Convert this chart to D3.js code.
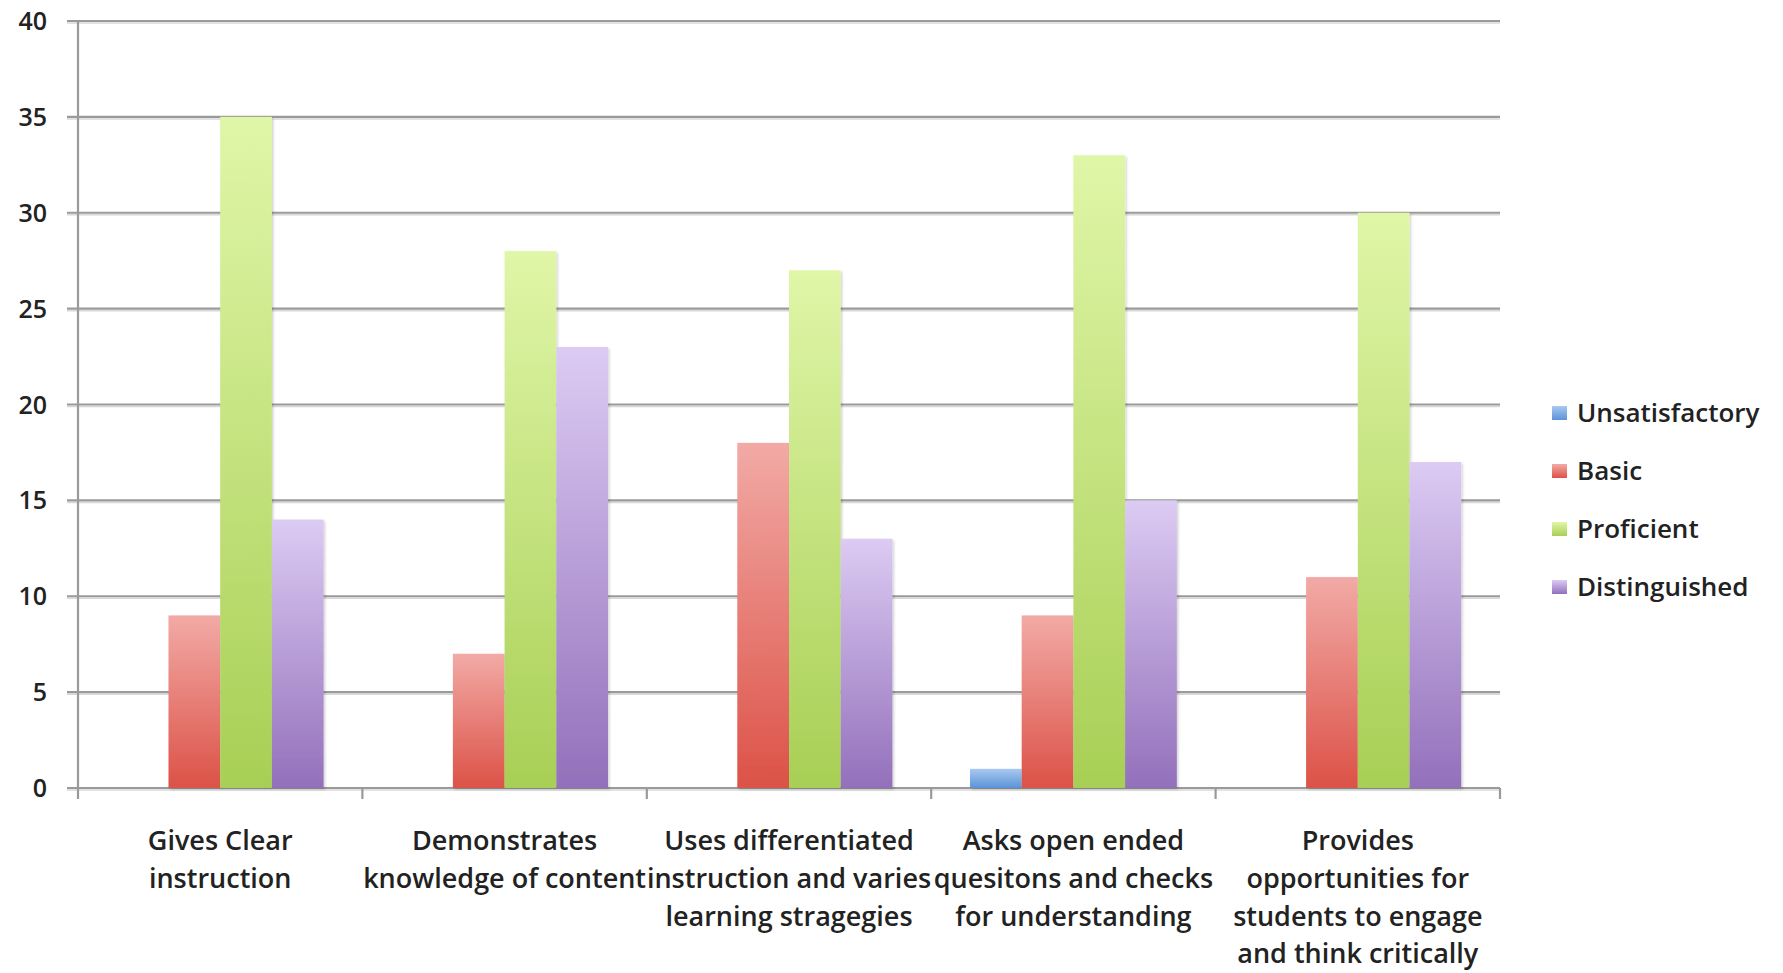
<!DOCTYPE html>
<html>
<head>
<meta charset="utf-8">
<script src="https://cdn.jsdelivr.net/npm/d3@7"></script>
<style>
  html, body { margin: 0; padding: 0; background: #fff; }
  svg { display: block; }
  text { font-family: "Open Sans", Lato, sans-serif; fill: #222; font-weight: 600; }
</style>
</head>
<body>
<script>
// 카테고리와 시리즈 값
const categories = [
    ["Gives Clear", "instruction"],
    ["Demonstrates", "knowledge of content"],
    ["Uses differentiated", "instruction and varies", "learning stragegies"],
    ["Asks open ended", "quesitons and checks", "for understanding"],
    ["Provides", "opportunities for", "students to engage", "and think critically"]
];
const seriesNames = ["Unsatisfactory", "Basic", "Proficient", "Distinguished"];
const unsatisfactory = [0, 0, 0, 1, 0];
const basic = [9, 7, 18, 9, 11];
const proficient = [35, 28, 27, 33, 30];
const distinguished = [14, 23, 13, 15, 17];
const yTicks = [0, 5, 10, 15, 20, 25, 30, 35, 40];

const seriesValues = [unsatisfactory, basic, proficient, distinguished];

// 그라디언트 색 (위: 밝게, 아래: 진하게)
const colors = [
    { top: "#a9c9f0", bottom: "#5b93d9" },
    { top: "#f2aaa6", bottom: "#dc5247" },
    { top: "#e0f6a8", bottom: "#a8cf55" },
    { top: "#dccbf3", bottom: "#9370bb" }
];

const width = 1783, height = 973;
const plot = { left: 78, right: 1500, top: 21, bottom: 788 };

const svg = d3.select("body").append("svg")
    .attr("width", width)
    .attr("height", height);

const defs = svg.append("defs");
colors.forEach((c, i) => {
    const g = defs.append("linearGradient")
        .attr("id", "grad" + i)
        .attr("x1", 0).attr("y1", 0).attr("x2", 0).attr("y2", 1);
    g.append("stop").attr("offset", "0%").attr("stop-color", c.top);
    g.append("stop").attr("offset", "100%").attr("stop-color", c.bottom);
});
const shadow = defs.append("filter").attr("id", "shadow")
    .attr("x", "-10%").attr("y", "-10%").attr("width", "130%").attr("height", "130%");
shadow.append("feDropShadow")
    .attr("dx", 1.5).attr("dy", 1.5).attr("stdDeviation", 1.2)
    .attr("flood-color", "#000").attr("flood-opacity", 0.18);

const x0 = d3.scaleBand()
    .domain(d3.range(categories.length))
    .range([plot.left, plot.right])
    .paddingInner(0).paddingOuter(0);

const x1 = d3.scaleBand()
    .domain(d3.range(seriesNames.length))
    .range([0, x0.bandwidth()])
    .paddingOuter(0.75)
    .paddingInner(0);

const y = d3.scaleLinear()
    .domain([0, 40])
    .range([plot.bottom, plot.top]);

// 그리드 라인
const grid = svg.append("g").attr("class", "grid");
grid.selectAll("line.sh")
    .data(yTicks)
    .enter().append("line")
    .attr("x1", plot.left - 11).attr("x2", plot.right)
    .attr("y1", d => y(d) + 2).attr("y2", d => y(d) + 2)
    .attr("stroke", "#d8d8d8").attr("stroke-width", 1.5);
grid.selectAll("line.main")
    .data(yTicks)
    .enter().append("line")
    .attr("x1", plot.left - 11).attr("x2", plot.right)
    .attr("y1", d => y(d)).attr("y2", d => y(d))
    .attr("stroke", "#9a9a9a").attr("stroke-width", 2.2);

// y축 세로선
svg.append("line")
    .attr("x1", plot.left).attr("x2", plot.left)
    .attr("y1", plot.top - 1).attr("y2", plot.bottom + 11)
    .attr("stroke", "#9a9a9a").attr("stroke-width", 2.2);

// x축 카테고리 구분 틱
svg.append("g")
    .selectAll("line")
    .data(d3.range(1, categories.length + 1))
    .enter().append("line")
    .attr("x1", d => x0(d - 1) + x0.bandwidth())
    .attr("x2", d => x0(d - 1) + x0.bandwidth())
    .attr("y1", plot.bottom).attr("y2", plot.bottom + 11)
    .attr("stroke", "#9a9a9a").attr("stroke-width", 2.2);

// 막대
const groups = svg.append("g")
    .selectAll("g")
    .data(categories.map((c, i) => i))
    .enter().append("g")
    .attr("transform", i => `translate(${x0(i)},0)`);

groups.selectAll("rect")
    .data(i => seriesValues.map((vals, s) => ({ s: s, v: vals[i] })).filter(d => d.v > 0))
    .enter().append("rect")
    .attr("x", d => x1(d.s))
    .attr("width", x1.bandwidth())
    .attr("y", d => y(d.v))
    .attr("height", d => y(0) - y(d.v))
    .attr("fill", d => `url(#grad${d.s})`)
    .attr("filter", "url(#shadow)");

// y축 레이블
svg.append("g")
    .selectAll("text")
    .data(yTicks)
    .enter().append("text")
    .attr("x", 47)
    .attr("y", d => y(d))
    .attr("dy", "0.36em")
    .attr("text-anchor", "end")
    .style("font-size", "25px")
    .text(d => d);

// 카테고리 레이블
const catLabel = svg.append("g")
    .selectAll("text")
    .data(categories)
    .enter().append("text")
    .attr("text-anchor", "middle")
    .style("font-size", "27px")
    .attr("transform", (d, i) => `translate(${x0(i) + x0.bandwidth() / 2},850)`);
catLabel.selectAll("tspan")
    .data(d => d)
    .enter().append("tspan")
    .attr("x", 0)
    .attr("y", (d, j) => j * 37.8)
    .text(d => d);

// 범례
const legend = svg.append("g")
    .selectAll("g")
    .data(seriesNames)
    .enter().append("g")
    .attr("transform", (d, i) => `translate(1552,${413 + i * 58})`);
legend.append("rect")
    .attr("x", 0).attr("y", -7)
    .attr("width", 15).attr("height", 14)
    .attr("fill", (d, i) => `url(#grad${i})`);
legend.append("text")
    .attr("x", 25)
    .attr("dy", "0.36em")
    .style("font-size", "26px")
    .text(d => d);
</script>
</body>
</html>
